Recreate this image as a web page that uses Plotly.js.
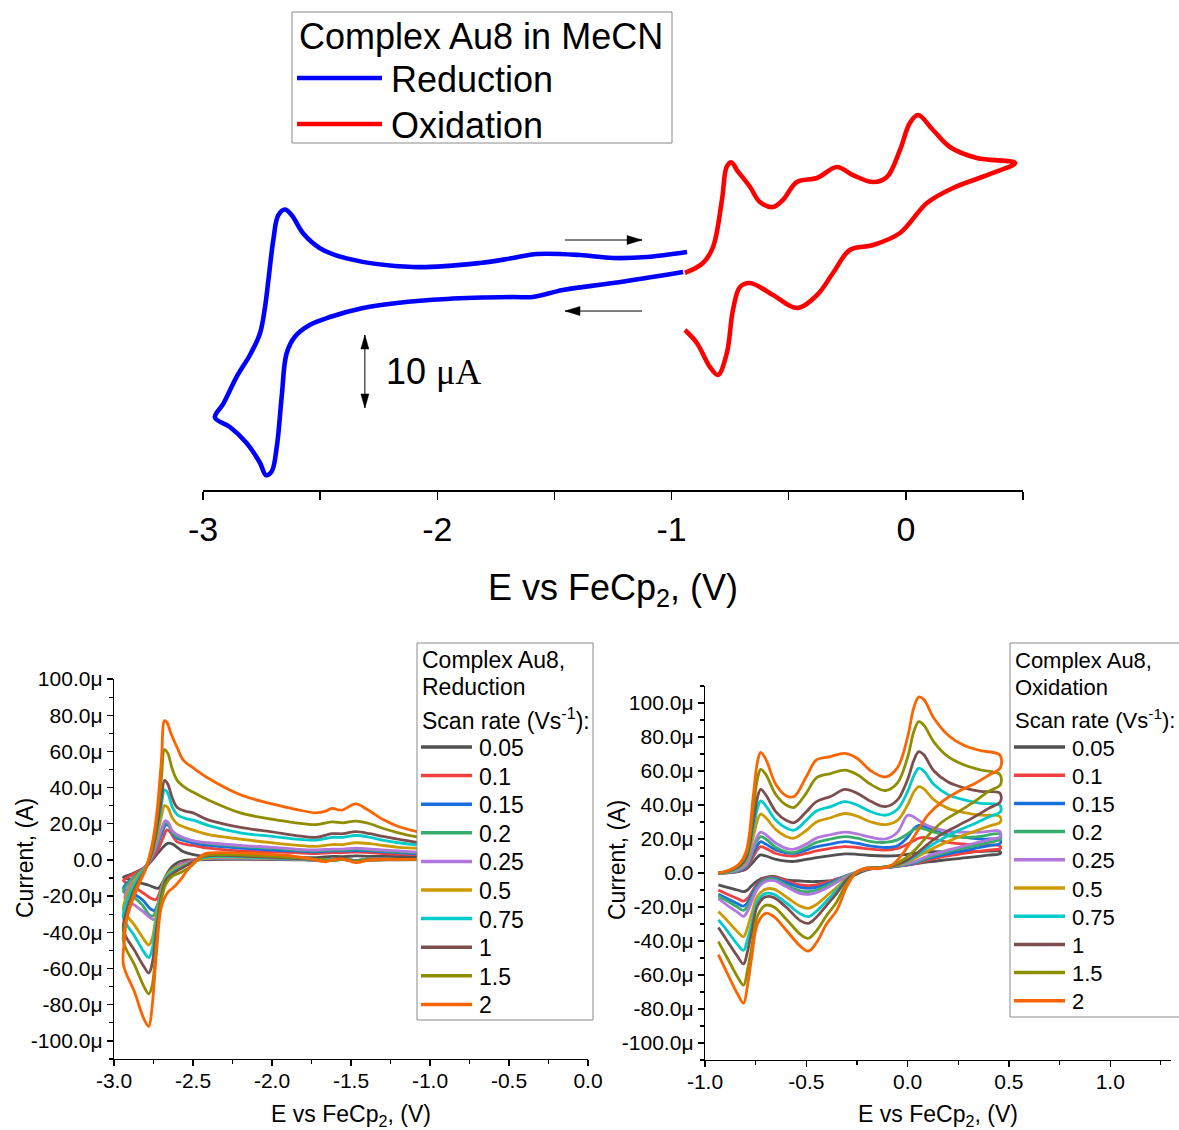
<!DOCTYPE html>
<html>
<head>
<meta charset="utf-8">
<script src="https://cdn.plot.ly/plotly-3.0.1.min.js"></script>
<style>
  html, body { margin: 0; padding: 0; background: #fff; }
  #cv { width: 1179px; height: 1130px; }
</style>
</head>
<body>
<div id="cv"></div>
<script>
// ---------- Overview scan (top panel), current in µA ----------
const overviewReductionE = [-0.951, -1.250, -1.464, -1.592, -1.677, -1.959, -2.172, -2.317, -2.458, -2.543, -2.607, -2.643, -2.664, -2.685, -2.707, -2.731, -2.757, -2.814, -2.885, -2.949,
  -2.913, -2.856, -2.799, -2.757, -2.735, -2.721, -2.700, -2.679, -2.650, -2.621, -2.572, -2.501, -2.387, -2.104, -1.818, -1.677, -1.574, -1.391, -1.250, -1.105, -0.934];
const overviewReductionI = [3.84, 2.33, 1.37, 0.41, 0.41, 0.14, -0.41, -1.10, -2.33, -3.40, -5.00, -7.30, -13.20, -20.10, -23.50, -24.00, -22.30, -19.60, -17.40, -16.10,
  -14.20, -10.50, -7.50, -4.60, -0.90, 2.70, 8.20, 11.60, 12.40, 11.60, 9.10, 7.10, 5.70, 4.52, 5.07, 5.75, 6.30, 6.16, 5.75, 5.89, 6.58];

const overviewOxidationE = [-0.943, -0.866, -0.823, -0.785, -0.764, -0.744, -0.721, -0.665, -0.623, -0.567, -0.525, -0.465, -0.379, -0.294, -0.226, -0.140, -0.081, -0.025, 0.017, 0.052, 0.116, 0.188, 0.303, 0.466,
  0.372, 0.201, 0.090, -0.025, -0.140, -0.239, -0.311, -0.379, -0.465, -0.567, -0.665, -0.708, -0.738, -0.764, -0.802, -0.836, -0.892, -0.943];
const overviewOxidationI = [3.70, 5.07, 7.26, 13.70, 18.30, 18.85, 17.80, 15.48, 13.42, 12.74, 13.70, 16.16, 16.71, 18.22, 17.12, 16.16, 16.85, 20.55, 24.25, 25.34, 23.29, 20.96, 19.45, 18.77,
  17.40, 15.34, 13.29, 9.18, 7.53, 6.85, 3.70, 0.68, -1.10, 0.68, 2.33, 1.78, -1.37, -7.26, -10.27, -9.18, -5.89, -4.11];

// Scale bar length in the overview panel (µA)
const scaleBarCurrent = 10;

// ---------- Scan-rate series ----------
const scanRates = ['0.05', '0.1', '0.15', '0.2', '0.25', '0.5', '0.75', '1', '1.5', '2'];

// Reduction window, current in µA (cathodic sweep, then return sweep)
const redE_005 = [-1.0, -1.2, -1.4, -1.47, -1.55, -1.62, -1.67, -1.8, -2.0, -2.2, -2.4, -2.5, -2.56, -2.6, -2.63, -2.66, -2.69, -2.72, -2.75, -2.78, -2.84, -2.89, -2.94,
  -2.91, -2.88, -2.84, -2.81, -2.78, -2.75, -2.72, -2.69, -2.66, -2.63, -2.6, -2.56, -2.5, -2.45, -2.3, -2.1, -1.9, -1.72, -1.62, -1.55, -1.47, -1.38, -1.2, -1.0];
const redI_005 = [0.2, 0.1, 0, -0.4, 0.2, 0, -0.5, 0, 0.2, 0.3, 0.2, 0, -0.3, -1.5, -3.5, -7, -12, -15.6, -15, -14, -12.5, -11, -9.6,
  -8.5, -7.5, -5.8, -4.5, -2.2, 0.8, 4, 7, 9.2, 8.8, 7, 4.5, 3, 2.2, 1.7, 1.6, 1.5, 1.3, 2, 1.8, 2.3, 2, 1.9, 1.8];

const redE_01 = [-1.0, -1.2, -1.4, -1.47, -1.55, -1.62, -1.8, -2.0, -2.2, -2.35, -2.45, -2.52, -2.58, -2.63, -2.67, -2.70, -2.725, -2.74, -2.77, -2.82, -2.87, -2.94,
  -2.92, -2.88, -2.84, -2.80, -2.76, -2.72, -2.69, -2.665, -2.645, -2.62, -2.6, -2.55, -2.5, -2.4, -2.2, -2.0, -1.85, -1.72, -1.62, -1.55, -1.47, -1.38, -1.3, -1.2, -1.1, -1.0];
const redI_01 = [0.3, 0.2, 0.1, -0.3, 0.3, 0, 0.3, 0.5, 0.6, 0.6, 0.3, -0.5, -2.5, -5, -9, -15, -21, -22, -21, -18, -15, -11.4,
  -10, -8, -6, -3.5, 0.5, 6, 12, 16.6, 15.5, 12, 10, 8.7, 8, 6.5, 5, 4.5, 4, 3.5, 4, 4, 4.3, 4, 3.5, 3.2, 3, 2.8];

const redE_015 = [-1.0, -1.2, -1.4, -1.47, -1.55, -1.62, -1.8, -2.0, -2.2, -2.35, -2.45, -2.52, -2.58, -2.63, -2.67, -2.70, -2.725, -2.745, -2.77, -2.82, -2.87, -2.94,
  -2.92, -2.88, -2.84, -2.80, -2.76, -2.73, -2.70, -2.67, -2.65, -2.63, -2.6, -2.55, -2.5, -2.4, -2.2, -2.0, -1.85, -1.72, -1.62, -1.55, -1.47, -1.38, -1.3, -1.2, -1.1, -1.0];
const redI_015 = [0.3, 0.2, 0.1, -0.3, 0.3, 0, 0.3, 0.6, 0.8, 0.8, 0.3, -1, -3, -5, -9, -16, -25, -28, -27, -22, -19, -15.7,
  -13, -10, -7, -4, 1, 7, 14, 19.5, 18.5, 14.5, 12, 10.5, 9.5, 8, 6.5, 5.5, 5, 4.5, 5, 5, 5.2, 5, 4.5, 4, 3.5, 3.3];

const redE_02 = [-1.0, -1.2, -1.4, -1.47, -1.55, -1.62, -1.8, -2.0, -2.2, -2.35, -2.45, -2.52, -2.58, -2.63, -2.67, -2.70, -2.73, -2.755, -2.78, -2.82, -2.87, -2.94,
  -2.92, -2.88, -2.84, -2.80, -2.76, -2.73, -2.70, -2.675, -2.655, -2.63, -2.6, -2.55, -2.5, -2.4, -2.2, -2.0, -1.85, -1.72, -1.62, -1.55, -1.47, -1.38, -1.3, -1.2, -1.1, -1.0];
const redI_02 = [0.3, 0.2, 0.1, -0.3, 0.3, 0, 0.3, 0.8, 1, 1, 0.5, -1, -3, -5, -9, -17, -27, -31, -30, -25, -21, -17.5,
  -14, -10, -7, -4, 2, 8, 16, 20.5, 19.5, 15, 13, 11.5, 10.5, 9, 7.5, 6.5, 5.5, 5, 5.5, 5.5, 6, 5.5, 5, 4.5, 4, 3.8];

const redE_025 = [-1.0, -1.2, -1.4, -1.47, -1.55, -1.62, -1.8, -2.0, -2.2, -2.35, -2.45, -2.52, -2.58, -2.62, -2.66, -2.69, -2.72, -2.745, -2.77, -2.81, -2.87, -2.93,
  -2.92, -2.88, -2.84, -2.80, -2.76, -2.73, -2.70, -2.675, -2.655, -2.63, -2.6, -2.55, -2.5, -2.4, -2.2, -2.0, -1.85, -1.72, -1.62, -1.55, -1.47, -1.38, -1.3, -1.2, -1.1, -1.0];
const redI_025 = [0.3, 0.2, 0.1, -0.3, 0.3, 0, 0.3, 0.8, 1, 1, 0.5, -1, -3, -5, -9, -17, -28, -33, -32, -29, -25, -21.7,
  -17, -12, -8, -4, 2, 9, 17, 21.7, 20.5, 16, 14, 12, 10.5, 9.5, 8, 7, 6, 5.5, 6, 6, 6.5, 6, 5.5, 5, 4.5, 4];

const redE_05 = [-1.0, -1.2, -1.4, -1.47, -1.55, -1.62, -1.8, -2.1, -2.35, -2.45, -2.5, -2.56, -2.62, -2.67, -2.70, -2.73, -2.76, -2.78, -2.81, -2.87, -2.94,
  -2.92, -2.88, -2.84, -2.80, -2.76, -2.73, -2.70, -2.68, -2.66, -2.63, -2.6, -2.55, -2.5, -2.4, -2.2, -2.0, -1.85, -1.72, -1.62, -1.55, -1.47, -1.38, -1.3, -1.2, -1.1, -1.0];
const redI_05 = [0.3, 0.2, 0.1, -0.3, 0.3, 0, 0.5, 1.2, 1.5, 0.5, -1, -3, -5, -9, -16, -29, -44, -47, -44, -36, -27.5,
  -20, -13, -8, -4, 3, 12, 24, 30, 29, 23, 20, 18, 16.5, 14, 11.5, 9.5, 8.2, 7.5, 8.5, 8.5, 9.5, 9, 8, 7, 6.5, 6];

const redE_075 = [-1.0, -1.2, -1.4, -1.47, -1.55, -1.62, -1.8, -2.1, -2.35, -2.45, -2.5, -2.56, -2.62, -2.67, -2.70, -2.73, -2.76, -2.78, -2.81, -2.87, -2.94,
  -2.92, -2.88, -2.84, -2.80, -2.76, -2.73, -2.70, -2.68, -2.66, -2.63, -2.6, -2.55, -2.5, -2.4, -2.2, -2.0, -1.85, -1.72, -1.62, -1.55, -1.47, -1.38, -1.3, -1.2, -1.1, -1.0];
const redI_075 = [0.3, 0.2, 0.1, -0.3, 0.3, 0, 0.5, 1.5, 2, 1, -1, -3.5, -6, -10, -18, -33, -50, -54, -51, -42, -32,
  -23, -15, -9, -4, 4, 15, 30, 38.7, 37, 29, 25, 23, 22, 19, 15, 13, 11.5, 11, 12.5, 12.5, 13.5, 12.5, 11, 9.5, 8.5, 8];

const redE_1 = [-1.0, -1.2, -1.4, -1.47, -1.55, -1.62, -1.8, -2.1, -2.35, -2.45, -2.5, -2.56, -2.62, -2.67, -2.70, -2.73, -2.76, -2.78, -2.81, -2.87, -2.94,
  -2.92, -2.88, -2.84, -2.80, -2.76, -2.73, -2.70, -2.68, -2.66, -2.63, -2.6, -2.55, -2.5, -2.4, -2.2, -2.0, -1.85, -1.72, -1.62, -1.55, -1.47, -1.38, -1.3, -1.2, -1.1, -1.0];
const redI_1 = [0.3, 0.2, 0, -0.5, 0.3, -0.2, 0.6, 1.8, 2.5, 1.5, -1, -4, -7, -11, -20, -38, -58, -62.5, -59, -50, -39,
  -28, -18, -11, -5, 4, 17, 34, 44, 42, 34, 29, 27, 26, 22, 18, 15.5, 13.5, 12.5, 14.5, 14.5, 15.7, 14.5, 13, 11.5, 10, 9];

const redE_15 = [-1.0, -1.2, -1.4, -1.47, -1.55, -1.62, -1.8, -2.0, -2.3, -2.42, -2.47, -2.52, -2.58, -2.63, -2.67, -2.70, -2.73, -2.76, -2.78, -2.81, -2.87, -2.94,
  -2.92, -2.88, -2.84, -2.80, -2.76, -2.73, -2.70, -2.68, -2.66, -2.63, -2.6, -2.55, -2.5, -2.4, -2.2, -2.0, -1.85, -1.72, -1.62, -1.55, -1.47, -1.38, -1.3, -1.2, -1.1, -1.0];
const redI_15 = [0.3, 0.2, 0, -0.8, 0.3, -0.3, 1, 2, 3, 2.5, 0, -4, -7, -9, -13, -22, -45, -70, -74, -70, -58, -45,
  -32, -20, -12, -5, 6, 22, 45, 61, 59, 50, 44, 40, 37.5, 33, 26, 22.5, 20.5, 19.5, 21, 20.5, 21.5, 20, 17.5, 15, 13, 12];

const redE_2 = [-1.0, -1.2, -1.38, -1.47, -1.55, -1.62, -1.66, -1.75, -1.9, -2.1, -2.3, -2.42, -2.48, -2.53, -2.58, -2.62, -2.66, -2.70, -2.73, -2.76, -2.78, -2.81, -2.87, -2.94,
  -2.935, -2.92, -2.89, -2.85, -2.80, -2.76, -2.73, -2.70, -2.68, -2.665, -2.64, -2.60, -2.56, -2.5, -2.4, -2.2, -2.0, -1.85, -1.72, -1.66, -1.62, -1.56, -1.47, -1.40, -1.3, -1.2, -1.1, -1.0];
const redI_2 = [0.5, 0.3, 0, -1.5, 0.5, 0, -1, 0.5, 2.5, 3.5, 4, 3.5, 0, -5, -11, -15, -18, -26, -50, -82, -92, -88, -73, -58,
  -45, -33, -24, -15, -5, 8, 25, 55, 77, 76, 70, 62, 55, 51, 45, 36, 31, 28, 26, 27, 28.5, 27.5, 31, 28, 22.5, 18.5, 16, 14];

// Oxidation window, current in µA (anodic sweep on oxUpE, return sweep on oxLoE)
const oxUpE = [-0.934, -0.88, -0.83, -0.795, -0.762, -0.74, -0.725, -0.70, -0.65, -0.60, -0.56, -0.50, -0.45, -0.38, -0.31, -0.25, -0.18, -0.11, -0.05, 0.0, 0.03, 0.055, 0.08, 0.13, 0.2, 0.28, 0.36, 0.455];
const oxLoE = [0.458, 0.40, 0.33, 0.25, 0.17, 0.10, 0.04, -0.02, -0.08, -0.15, -0.20, -0.25, -0.30, -0.35, -0.40, -0.45, -0.49, -0.53, -0.60, -0.66, -0.70, -0.74, -0.77, -0.79, -0.81, -0.84, -0.89, -0.934];

const oxUpI_005 = [0, 0.2, 1, 2.5, 6.5, 9.5, 10.6, 10, 8, 7, 6.8, 8, 9, 10.2, 11.2, 11, 10.3, 10, 10.2, 11, 11.5, 12, 12.2, 12.5, 12.5, 12.5, 12.6, 12.7];
const oxLoI_005 = [11.5, 10.5, 9.5, 8.5, 7.5, 6.5, 5.5, 4.5, 3.8, 3, 1.8, -0.5, -3, -4.3, -4.7, -5, -5, -4.7, -4, -2, -2.5, -4.5, -7.5, -10, -11, -10, -8.5, -7];
const oxUpI_01 = [0, 0.3, 1.2, 3.2, 9.5, 14, 15.5, 14.5, 11.5, 10.2, 10, 11.5, 13, 14.5, 15.5, 15, 14, 13.5, 14.5, 17, 19, 20.5, 21, 20, 18, 17, 16.5, 16];
const oxLoI_01 = [14.5, 13.5, 12.5, 11, 9.5, 7.5, 5.5, 4.3, 3.4, 3, 2.3, 0.3, -1.5, -3.5, -5.5, -7, -7.5, -7, -4.5, -2.5, -3, -6, -11.5, -15, -16.5, -15, -12.5, -10];
const oxUpI_015 = [0, 0.4, 1.5, 4, 11.5, 16.5, 18.4, 17, 13.5, 11.8, 11.6, 13.5, 15.5, 17, 18.4, 17.5, 15.8, 15, 16, 21, 26, 28, 27.5, 25, 22.5, 21, 20, 19.6];
const oxLoI_015 = [17.5, 16, 14.5, 12.5, 10.5, 8.5, 6, 4.5, 3.5, 3, 2.5, 0.5, -1.5, -4, -6.5, -8.5, -9, -8.5, -5.5, -3, -3.5, -7, -13, -17.5, -19.5, -18, -15, -12.5];
const oxUpI_02 = [0, 0.5, 1.8, 4.5, 13.5, 19.5, 21.4, 20, 15, 12.5, 12, 15, 18, 20, 21.4, 20.5, 18.5, 18, 19.5, 23, 25.5, 26.5, 26, 24, 22, 21, 21.5, 23];
const oxLoI_02 = [20, 18, 16, 14, 11.5, 9, 6.5, 4.8, 3.6, 3, 2.5, 0.5, -1.5, -4.5, -7.5, -10, -11, -10.5, -7, -3.5, -4, -8, -15, -19.5, -22, -20, -16.5, -13.5];
const oxUpI_025 = [0, 0.6, 2, 5, 15, 22, 24, 22.5, 17.5, 14.5, 14, 17, 20.5, 22.5, 24, 23, 21, 20, 24, 34, 33, 31, 29, 26.5, 24.5, 24, 24, 24.5];
const oxLoI_025 = [21.5, 19.5, 17.5, 15, 12.5, 10, 7, 5, 3.8, 3, 2.5, 0.5, -2, -5.5, -9, -11.5, -12.5, -12, -8, -4.5, -5, -9, -17, -22.5, -25.5, -23, -19, -15];
const oxUpI_05 = [0, 0.8, 3, 7, 21, 31.5, 34.7, 32.5, 25.5, 21.5, 20.5, 25, 30, 32.5, 35, 33.5, 30, 28.5, 31, 40, 47.5, 50.8, 49.5, 43, 38, 35.5, 34, 33.3];
const oxLoI_05 = [30, 27.5, 24.5, 21, 17, 13, 9, 5.5, 4, 3, 2.8, 0.5, -3, -8.5, -13.5, -18.5, -20.8, -19.5, -14, -9.5, -9.5, -13.5, -24, -32, -37.5, -34.5, -28, -22.7];
const oxUpI_075 = [0, 1, 3.5, 8.5, 26, 38.5, 42.4, 39.5, 31, 26.5, 25.2, 31, 36.5, 39, 42, 40, 36, 34, 37.5, 48, 57, 61.6, 60, 52, 46, 43, 41, 40];
const oxLoI_075 = [36, 33, 29, 25, 20, 15, 10, 6, 4, 3, 2.8, 0.5, -3.5, -10, -16.5, -22.5, -25.7, -24, -17.5, -12.5, -12, -16.5, -30, -39, -45.5, -42, -34, -27.6];
const oxUpI_1 = [0, 1.2, 4, 9.5, 30, 45, 49.2, 46, 36, 31, 29.6, 36, 42, 45, 49.2, 47, 42, 39, 43, 55, 66, 71.4, 69.5, 60, 53.5, 50, 48, 47];
const oxLoI_1 = [42, 38, 33, 28, 23, 17, 11, 6.5, 4, 3, 2.8, 0.5, -4, -12, -19, -26, -29.6, -28, -20, -14.5, -14, -19, -35, -46, -53.5, -49, -40, -32];
const oxUpI_15 = [0, 1.5, 5, 11.5, 38, 56, 61, 58, 46, 40, 38.6, 47, 56, 58.5, 60.5, 58, 52, 48.5, 53, 68, 83, 89, 87, 77, 68.4, 63.5, 60.6, 58];
const oxLoI_15 = [52, 48, 42, 36, 30, 22, 14, 8, 4.5, 3, 2.8, 0.5, -6, -17, -25, -34, -38.4, -36, -27, -20, -19, -25, -44, -57, -66, -61, -50, -40.4];
const oxUpI_2 = [0, 1.8, 5.5, 13.5, 45, 66, 71, 67, 52, 45.5, 45, 56.6, 66.5, 68.5, 70.4, 67.5, 60, 56.5, 62, 80, 97, 103.5, 102, 91, 81, 75, 72, 69.4];
const oxLoI_2 = [62, 57.5, 52.5, 48, 42, 34, 23, 12, 4.5, 2.5, 2.8, 0.8, -8, -22, -30, -41, -46, -43, -33.5, -25.7, -23.7, -29.6, -50, -66, -76.6, -71, -59, -48];

// Axis tick labels
const currentTickVals = [-100, -80, -60, -40, -20, 0, 20, 40, 60, 80, 100];
const currentTickText = ['-100.0\u03bc', '-80.0\u03bc', '-60.0\u03bc', '-40.0\u03bc', '-20.0\u03bc', '0.0', '20.0\u03bc', '40.0\u03bc', '60.0\u03bc', '80.0\u03bc', '100.0\u03bc'];
const redTickVals = [-3, -2.5, -2, -1.5, -1, -0.5, 0];
const redTickText = ['-3.0', '-2.5', '-2.0', '-1.5', '-1.0', '-0.5', '0.0'];
const oxTickVals = [-1, -0.5, 0, 0.5, 1];
const oxTickText = ['-1.0', '-0.5', '0.0', '0.5', '1.0'];
const overviewTickVals = [-3, -2, -1, 0];
const overviewTickText = ['-3', '-2', '-1', '0'];

// ---------- Styling ----------
const FONT = 'Arial, "Liberation Sans", sans-serif';
const SERIF = 'Liberation Serif';
const W = 1179, H = 1130;
const fx = p => p / W;          // pixel column -> paper x
const fy = p => 1 - p / H;      // pixel row -> paper y
const rateColors = ['#515151', '#F14040', '#1A6FDF', '#37AD6B', '#B177DE', '#CC9900', '#00CBCC', '#7D4E4E', '#8E8E00', '#FB6501'];

// overview panel geometry (pixels) and ranges
const topX0 = 203, topX1 = 1023, topYBottom = 490, topYTop = 100;
const topXRange = [-3, 0.5], topYRange = [-26.03, 27.40];
const pxPerVolt = (topX1 - topX0) / (topXRange[1] - topXRange[0]);
const pxPerMicroamp = (topYBottom - topYTop) / (topYRange[1] - topYRange[0]);

const reductionSeries = [
  [redE_005, redI_005], [redE_01, redI_01], [redE_015, redI_015], [redE_02, redI_02], [redE_025, redI_025],
  [redE_05, redI_05], [redE_075, redI_075], [redE_1, redI_1], [redE_15, redI_15], [redE_2, redI_2]
];
const oxidationSeries = [
  [oxUpI_005, oxLoI_005], [oxUpI_01, oxLoI_01], [oxUpI_015, oxLoI_015], [oxUpI_02, oxLoI_02], [oxUpI_025, oxLoI_025],
  [oxUpI_05, oxLoI_05], [oxUpI_075, oxLoI_075], [oxUpI_1, oxLoI_1], [oxUpI_15, oxLoI_15], [oxUpI_2, oxLoI_2]
];

function cvLine(x, y, color, width, xa, ya, name) {
  return {
    type: 'scatter', mode: 'lines', x: x, y: y, name: name,
    xaxis: xa, yaxis: ya, hoverinfo: 'skip', showlegend: false,
    line: { color: color, width: width, shape: 'spline', smoothing: 1 }
  };
}

const traces = [];
traces.push(cvLine(overviewReductionE, overviewReductionI, '#0000FF', 4.6, 'x', 'y', 'Reduction'));
traces.push(cvLine(overviewOxidationE, overviewOxidationI, '#FF0000', 4.6, 'x', 'y', 'Oxidation'));
reductionSeries.forEach((s, i) => traces.push(cvLine(s[0], s[1], rateColors[i], 2.8, 'x2', 'y2', scanRates[i])));
oxidationSeries.forEach((s, i) => traces.push(cvLine(oxUpE.concat(oxLoE), s[0].concat(s[1]), rateColors[i], 2.8, 'x3', 'y3', scanRates[i])));

// ---------- Legend boxes, arrows and labels ----------
const shapes = [];
const annotations = [];

function paperText(x, y, text, size, angle) {
  annotations.push({ xref: 'paper', yref: 'paper', x: fx(x), y: fy(y), text: text, showarrow: false,
    xanchor: angle ? 'center' : 'left', yanchor: 'middle', textangle: angle || 0,
    font: { family: FONT, size: size, color: '#000' } });
}
function legendLine(x0, x1, y, color, width) {
  shapes.push({ type: 'line', xref: 'paper', yref: 'paper', x0: fx(x0), x1: fx(x1), y0: fy(y), y1: fy(y),
    line: { color: color, width: width }, layer: 'above' });
}
function legendBox(x0, y0, x1, y1) {
  shapes.push({ type: 'rect', xref: 'paper', yref: 'paper', x0: fx(x0), x1: fx(x1), y0: fy(y0), y1: fy(y1),
    line: { color: '#8a8a8a', width: 1 }, fillcolor: '#ffffff', layer: 'above' });
}

// arrow in data units of the overview panel: shaft plus a filled head (head sizes in px)
function dataArrow(x0, y0, x1, y1, headLen, headHalf) {
  shapes.push({ type: 'line', xref: 'x', yref: 'y', x0: x0, y0: y0, x1: x1, y1: y1,
    line: { color: '#000', width: 1 }, layer: 'above' });
  const dxp = (x1 - x0) * pxPerVolt, dyp = (y1 - y0) * pxPerMicroamp;
  const len = Math.hypot(dxp, dyp);
  const ux = dxp / len, uy = dyp / len;
  const bx = -ux * headLen, by = -uy * headLen;
  const nx = -uy * headHalf, ny = ux * headHalf;
  const p = (ox, oy) => (x1 + ox / pxPerVolt).toFixed(5) + ',' + (y1 + oy / pxPerMicroamp).toFixed(5);
  shapes.push({ type: 'path', xref: 'x', yref: 'y',
    path: 'M' + p(0, 0) + ' L' + p(bx + nx, by + ny) + ' L' + p(bx - nx, by - ny) + ' Z',
    fillcolor: '#000', line: { color: '#000', width: 0.5 }, layer: 'above' });
}

// top legend
legendBox(292, 12, 672, 143);
paperText(297, 36, 'Complex Au8 in MeCN', 36);
legendLine(297, 382, 78, '#0000FF', 4.6);
paperText(389, 79, 'Reduction', 36);
legendLine(297, 382, 124, '#FF0000', 4.6);
paperText(389, 125, 'Oxidation', 36);

// scan-rate legends
function rateLegend(x0, x1, lineX0, lineX1, labelX, title2, firstY, step, boxBottom, size) {
  legendBox(x0, 643, x1, boxBottom);
  paperText(x0 + 3, 660, 'Complex Au8,', size);
  paperText(x0 + 3, 687, title2, size);
  paperText(x0 + 3, 719, 'Scan rate (Vs<sup>-1</sup>):', size);
  scanRates.forEach((r, i) => {
    const y = firstY + i * step;
    legendLine(lineX0, lineX1, y, rateColors[i], 3.5);
    paperText(labelX, y + 1, r, size);
  });
}
rateLegend(417, 593, 421, 472, 477, 'Reduction', 747, 28.6, 1020, 23);
rateLegend(1010, 1190, 1014, 1065, 1070, 'Oxidation', 747, 28.2, 1017, 22);

// y-axis titles of the scan-rate panels
paperText(25, 858, 'Current, (A)', 23, -90);
paperText(617, 860, 'Current, (A)', 23, -90);

// sweep direction arrows and current scale bar
dataArrow(-1.455, 8.22, -1.126, 8.22, 15, 4.5);
dataArrow(-1.126, -1.51, -1.455, -1.51, 15, 4.5);
const barE = -2.309, barTop = -4.79;
dataArrow(barE, barTop - scaleBarCurrent / 2, barE, barTop, 14, 4);
dataArrow(barE, barTop - scaleBarCurrent / 2, barE, barTop - scaleBarCurrent, 14, 4);
annotations.push({ xref: 'x', yref: 'y', x: -2.2275, y: barTop - scaleBarCurrent / 2, xanchor: 'left', yanchor: 'middle', showarrow: false,
  text: '10 <span style="font-family:' + SERIF + '">\u03bcA</span>', font: { family: FONT, size: 36, color: '#000' } });

const axisCommon = {
  showgrid: false, zeroline: false, showline: true, linecolor: '#000', linewidth: 1.3,
  ticks: 'outside', tickcolor: '#000', tickwidth: 1.3, ticklen: 6, fixedrange: true
};

const layout = {
  width: W, height: H,
  margin: { l: 0, r: 0, t: 0, b: 0 },
  paper_bgcolor: '#ffffff', plot_bgcolor: 'rgba(0,0,0,0)',
  font: { family: FONT, color: '#000' },
  showlegend: false,
  xaxis: Object.assign({}, axisCommon, {
    domain: [fx(topX0), fx(topX1)], range: topXRange, anchor: 'y',
    tickvals: overviewTickVals, ticktext: overviewTickText, ticklen: 8, linewidth: 1.8, tickwidth: 1.5,
    minor: { tickvals: [-2.5, -1.5, -0.5, 0.5], ticks: 'outside', ticklen: 8, tickwidth: 1.5, tickcolor: '#000' },
    tickfont: { size: 34 },
    title: { text: 'E vs FeCp<sub>2</sub>, (V)', font: { size: 36 }, standoff: 28 }
  }),
  yaxis: { domain: [fy(topYBottom), fy(topYTop)], range: topYRange, visible: false, fixedrange: true, anchor: 'x' },

  xaxis2: Object.assign({}, axisCommon, {
    domain: [fx(114), fx(588)], range: [-3, 0], anchor: 'y2',
    tickvals: redTickVals, ticktext: redTickText, ticklabelstandoff: -4,
    minor: { dtick: 0.25, tick0: -3, ticks: 'outside', ticklen: 4, tickwidth: 1.1, tickcolor: '#000' },
    tickfont: { size: 21 },
    title: { text: 'E vs FeCp<sub>2</sub>, (V)', font: { size: 23 }, standoff: 22 }
  }),
  yaxis2: Object.assign({}, axisCommon, {
    domain: [fy(1059), fy(679)], range: [-110, 100], anchor: 'x2',
    tickvals: currentTickVals, ticktext: currentTickText,
    minor: { dtick: 10, tick0: 0, ticks: 'outside', ticklen: 4, tickwidth: 1.1, tickcolor: '#000' },
    tickfont: { size: 21 }
  }),

  xaxis3: Object.assign({}, axisCommon, {
    domain: [fx(705), fx(1171)], range: [-1, 1.3], anchor: 'y3',
    tickvals: oxTickVals, ticktext: oxTickText, ticklabelstandoff: -4,
    minor: { dtick: 0.25, tick0: -1, ticks: 'outside', ticklen: 4, tickwidth: 1.1, tickcolor: '#000' },
    tickfont: { size: 21 },
    title: { text: 'E vs FeCp<sub>2</sub>, (V)', font: { size: 23 }, standoff: 22 }
  }),
  yaxis3: Object.assign({}, axisCommon, {
    domain: [fy(1060), fy(686)], range: [-110, 110], anchor: 'x3',
    tickvals: currentTickVals, ticktext: currentTickText,
    minor: { dtick: 10, tick0: 0, ticks: 'outside', ticklen: 4, tickwidth: 1.1, tickcolor: '#000' },
    tickfont: { size: 21 }
  }),

  shapes: shapes,
  annotations: annotations
};

Plotly.newPlot('cv', traces, layout, { displayModeBar: false, staticPlot: true });
</script>
</body>
</html>
